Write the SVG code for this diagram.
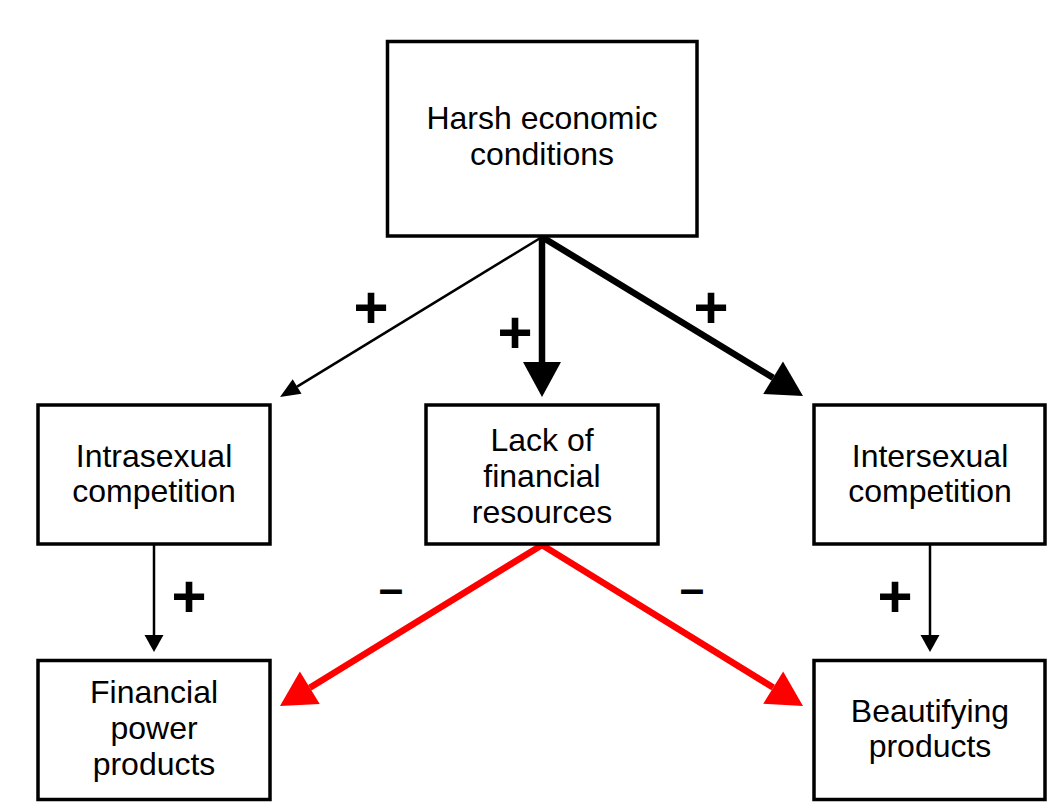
<svg xmlns="http://www.w3.org/2000/svg" width="1048" height="804" viewBox="0 0 1048 804">
<style>
.box{fill:#fff;stroke:#000;stroke-width:3.5}
.lbl{font-family:"Liberation Sans",Arial,sans-serif;font-size:32px;fill:#000;text-anchor:middle}
.sign{font-family:"Liberation Sans",Arial,sans-serif;font-weight:bold;fill:#000;text-anchor:middle}
.plus{font-size:60px}
.minus{font-size:44px}
.thin{stroke:#000;stroke-width:2.5;fill:none}
.thick{stroke:#000;stroke-width:6.5;fill:none}
.red{stroke:#ff0000;stroke-width:6.5;fill:none}
</style>
<defs>
<marker id="hSmall" markerUnits="userSpaceOnUse" markerWidth="20" markerHeight="20" refX="0" refY="0" orient="auto" overflow="visible"><path d="M0,-9.5 L17,0 L0,9.5 z" fill="#000"/></marker>
<marker id="hThin" markerUnits="userSpaceOnUse" markerWidth="20" markerHeight="20" refX="0" refY="0" orient="auto" overflow="visible"><path d="M0,-8.5 L20,0 L0,8.5 z" fill="#000"/></marker>
<marker id="hBig" markerUnits="userSpaceOnUse" markerWidth="40" markerHeight="40" refX="0" refY="0" orient="auto" overflow="visible"><path d="M0,-19 L35,0 L0,19 z" fill="#000"/></marker>
<marker id="hRed" markerUnits="userSpaceOnUse" markerWidth="40" markerHeight="40" refX="0" refY="0" orient="auto-start-reverse" overflow="visible"><path d="M0,-19 L35,0 L0,19 z" fill="#ff0000"/></marker>
</defs>
<rect width="1048" height="804" fill="#fff"/>
<g id="connectors">
<path class="thin" d="M542,237 L297.1,386.6" marker-end="url(#hThin)"/>
<path class="thick" d="M542,237 L542,362" marker-end="url(#hBig)"/>
<path class="thick" d="M542,237 L773.1,377.8" marker-end="url(#hBig)"/>
<path class="thin" d="M154,545 L154,635" marker-end="url(#hSmall)"/>
<path class="thin" d="M930,545 L930,635" marker-end="url(#hSmall)"/>
<path class="red" d="M309.8,687.7 L542,545 L773.2,687.6" marker-start="url(#hRed)" marker-end="url(#hRed)"/>
<text class="sign plus" x="371" y="328">+</text>
<text class="sign plus" x="515" y="353">+</text>
<text class="sign plus" x="711" y="328">+</text>
<text class="sign plus" x="189" y="617">+</text>
<text class="sign plus" x="895" y="617">+</text>
<text class="sign minus" x="391" y="604">–</text>
<text class="sign minus" x="692" y="604">–</text>
</g>
<g id="node-harsh">
<rect class="box" x="387.5" y="41.5" width="309.5" height="194.5"/>
<text class="lbl" x="542" y="129">Harsh economic</text>
<text class="lbl" x="542" y="165">conditions</text>
</g>
<g id="node-intrasexual">
<rect class="box" x="38" y="405" width="232" height="139"/>
<text class="lbl" x="154" y="467">Intrasexual</text>
<text class="lbl" x="154" y="502">competition</text>
</g>
<g id="node-lack">
<rect class="box" x="426" y="405" width="232" height="139"/>
<text class="lbl" x="542" y="451">Lack of</text>
<text class="lbl" x="542" y="487">financial</text>
<text class="lbl" x="542" y="523">resources</text>
</g>
<g id="node-intersexual">
<rect class="box" x="814" y="405" width="231" height="139"/>
<text class="lbl" x="930" y="467">Intersexual</text>
<text class="lbl" x="930" y="502">competition</text>
</g>
<g id="node-financial">
<rect class="box" x="38" y="660.5" width="232" height="139"/>
<text class="lbl" x="154" y="703">Financial</text>
<text class="lbl" x="154" y="739">power</text>
<text class="lbl" x="154" y="775">products</text>
</g>
<g id="node-beautifying">
<rect class="box" x="814" y="660.5" width="231" height="139"/>
<text class="lbl" x="930" y="722">Beautifying</text>
<text class="lbl" x="930" y="757">products</text>
</g>
</svg>
